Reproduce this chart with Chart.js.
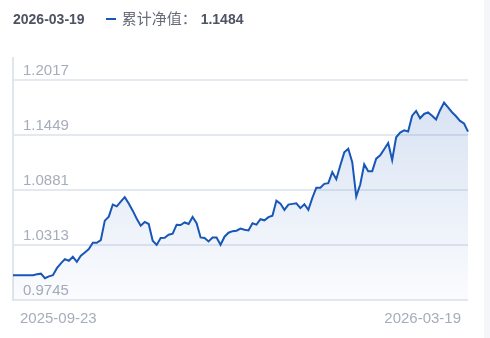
<!DOCTYPE html>
<html>
<head>
<meta charset="utf-8">
<script src="https://cdn.jsdelivr.net/npm/chart.js@4.4.1/dist/chart.umd.min.js"></script>
<style>
body { margin: 0; background: #fff; }
#wrap { position: relative; width: 490px; height: 338px; overflow: hidden; background: #fff; }
#side { position: absolute; left: 484px; top: 0; width: 6px; height: 338px; background: #f5f6f9; }
#chartBox { position: absolute; left: 0; top: 0; width: 484px; height: 338px; }
#head { position: absolute; left: 13px; top: 9px; font-family: "Liberation Sans", "Noto Sans CJK SC", sans-serif; white-space: nowrap; line-height: 18px; }
#head .date { font-size: 14px; font-weight: bold; color: #4d5363; }
#head .dash { display: inline-block; width: 10px; height: 2px; background: #1857b8; vertical-align: middle; margin: 0 6px 0 21px; position: relative; top: -1px; }
#head .name { font-family: "Noto Sans CJK SC", sans-serif; font-size: 15px; color: #676c78; }
#head .val { font-size: 14px; font-weight: bold; color: #4d5363; margin-left: 4px; }
</style>
</head>
<body>
<div id="wrap">
  <div id="chartBox"><canvas id="navChart" width="484" height="338"></canvas></div>
  <div id="side"></div>
  <div id="head"><span class="date">2026-03-19</span><span class="dash"></span><span class="name">累计净值：</span><span class="val">1.1484</span></div>
</div>
<script>
// trading days per month
const tradeDays = {
    "2025-09": [23, 24, 25, 26, 29, 30],
    "2025-10": [9, 10, 13, 14, 15, 16, 17, 20, 21, 22, 23, 24, 27, 28, 29, 30, 31],
    "2025-11": [3, 4, 5, 6, 7, 10, 11, 12, 13, 14, 17, 18, 19, 20, 21, 24, 25, 26, 27, 28],
    "2025-12": [1, 2, 3, 4, 5, 8, 9, 10, 11, 12, 15, 16, 17, 18, 19, 22, 23, 24, 25, 26, 29, 30, 31],
    "2026-01": [5, 6, 7, 8, 9, 12, 13, 14, 15, 16, 19, 20, 21, 22, 23, 26, 27, 28, 29, 30],
    "2026-02": [2, 3, 4, 5, 6, 9, 10, 11, 12, 13, 23, 24, 25, 26, 27],
    "2026-03": [2, 3, 4, 5, 6, 9, 10, 11, 12, 13, 16, 17, 18, 19]
}

const navValues = [
    1.0000, 1.0000, 1.0000, 1.0000, 1.0000, 1.0001, 1.0010, 1.0017, 0.9970, 0.9989,
    1.0001, 1.0074, 1.0124, 1.0167, 1.0150, 1.0191, 1.0139, 1.0202, 1.0236, 1.0271,
    1.0336, 1.0336, 1.0364, 1.0565, 1.0606, 1.0731, 1.0713, 1.0762, 1.0808, 1.0741,
    1.0668, 1.0585, 1.0513, 1.0551, 1.0530, 1.0357, 1.0314, 1.0385, 1.0388, 1.0419,
    1.0430, 1.0523, 1.0520, 1.0546, 1.0530, 1.0603, 1.0539, 1.0391, 1.0385, 1.0350,
    1.0391, 1.0391, 1.0316, 1.0399, 1.0440, 1.0456, 1.0461, 1.0482, 1.0471, 1.0463,
    1.0537, 1.0523, 1.0580, 1.0568, 1.0601, 1.0616, 1.0772, 1.0741, 1.0676, 1.0731,
    1.0738, 1.0744, 1.0694, 1.0734, 1.0676, 1.0800, 1.0905, 1.0905, 1.0945, 1.0952,
    1.1066, 1.0993, 1.1135, 1.1270, 1.1308, 1.1169, 1.0814, 1.0938, 1.1146, 1.1076,
    1.1076, 1.1205, 1.1239, 1.1303, 1.1367, 1.1191, 1.1426, 1.1475, 1.1498, 1.1485,
    1.1649, 1.1698, 1.1623, 1.1667, 1.1683, 1.1649, 1.1610, 1.1706, 1.1784, 1.1734,
    1.1685, 1.1643, 1.1595, 1.1568, 1.1484
]

const yTicks = [0.9745, 1.0313, 1.0881, 1.1449, 1.2017]
const yMin = 0.9745
const yMax = 1.2245

let dates = []
for (const month in tradeDays) {
    tradeDays[month].forEach(d => dates.push(month + "-" + String(d).padStart(2, "0")))
}
const xLabels = [dates[0], dates[dates.length - 1]]

const ctx = document.getElementById("navChart")

const navChart = new Chart(ctx, {
    type: "line",
    data: {
        labels: dates,
        datasets: [{
            label: "累计净值",
            data: navValues,
            borderColor: "#1857b8",
            borderWidth: 2,
            pointRadius: 0,
            tension: 0,
            fill: "start",
            backgroundColor: function (context) {
                const area = context.chart.chartArea
                if (!area) return "rgba(24,87,184,0.12)"
                const g = context.chart.ctx.createLinearGradient(0, area.top, 0, area.bottom)
                g.addColorStop(0, "rgba(24,87,184,0.20)")
                g.addColorStop(1, "rgba(24,87,184,0.02)")
                return g
            }
        }]
    },
    options: {
        responsive: false,
        animation: false,
        layout: { padding: { left: 13, right: 16, top: 58, bottom: 0 } },
        plugins: {
            legend: { display: false },
            tooltip: { enabled: false }
        },
        scales: {
            x: {
                grid: { display: false, drawTicks: false },
                border: { display: false },
                // first/last date labels sit slightly inside the plot edges
                afterBuildTicks: function (axis) {
                    axis.ticks = [{ value: 1.75 }, { value: dates.length - 2.75 }]
                },
                ticks: {
                    autoSkip: false,
                    maxRotation: 0,
                    align: "inner",
                    padding: 10,
                    color: "#a6adba",
                    font: { family: "Liberation Sans", size: 15 },
                    callback: function (value, index) { return xLabels[index] }
                }
            },
            y: {
                min: yMin,
                max: yMax,
                grid: { color: "#e4e9f1", lineWidth: 2, drawTicks: false },
                border: { display: true, color: "#e1e5ec", width: 2 },
                afterBuildTicks: function (axis) {
                    axis.ticks = yTicks.map(v => ({ value: v }))
                },
                afterFit: function (axis) {
                    axis.width = 0
                },
                ticks: {
                    mirror: true,
                    padding: 10,
                    labelOffset: -9,
                    color: "#a6adba",
                    font: { family: "Liberation Sans", size: 15 },
                    callback: function (value) { return value.toFixed(4) }
                }
            }
        }
    }
})
</script>
</body>
</html>
